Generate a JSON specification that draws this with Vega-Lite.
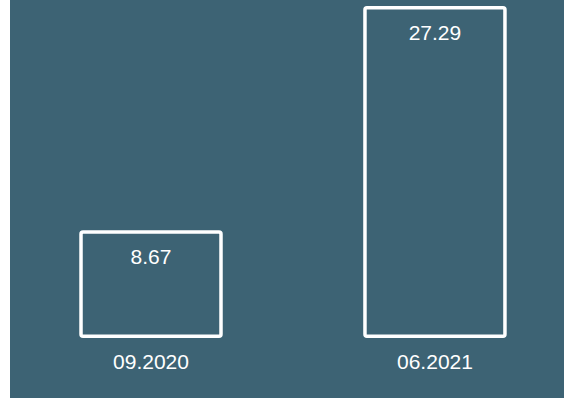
{
  "$schema": "https://vega.github.io/schema/vega-lite/v6.json",
  "width": 554,
  "height": 398,
  "padding": {"left": 10, "top": 0, "right": 0, "bottom": 0},
  "autosize": {"type": "none"},
  "background": "white",
  "view": {"fill": "#3d6374", "stroke": null},
  "data": {"values": [
    {"period": "09.2020", "value": 8.67},
    {"period": "06.2021", "value": 27.29}
  ]},
  "encoding": {
    "x": {"field": "period", "type": "nominal", "sort": null,
      "scale": {"paddingInner": 0.507, "paddingOuter": 0.229, "align": 0.546},
      "axis": {"title": null, "orient": "bottom", "offset": -61.7, "domain": false, "ticks": false, "labelAngle": 0,
        "labelPadding": 15, "labelFontSize": 21, "labelFont": "Liberation Sans", "labelColor": "white"}},
    "y": {"field": "value", "type": "quantitative",
      "scale": {"domain": [-5.126, 27.938], "nice": false, "zero": false},
      "axis": null}
  },
  "layer": [
    {"mark": {"type": "bar", "fill": "#3d6374", "stroke": "white", "strokeWidth": 3.5, "cornerRadius": 2, "strokeJoin": "round"},
     "encoding": {"y2": {"datum": 0}}},
    {"mark": {"type": "text", "color": "white", "font": "Liberation Sans", "fontSize": 21, "baseline": "middle", "dy": 26},
     "encoding": {"text": {"field": "value", "type": "quantitative", "format": ".2f"}}}
  ]
}
